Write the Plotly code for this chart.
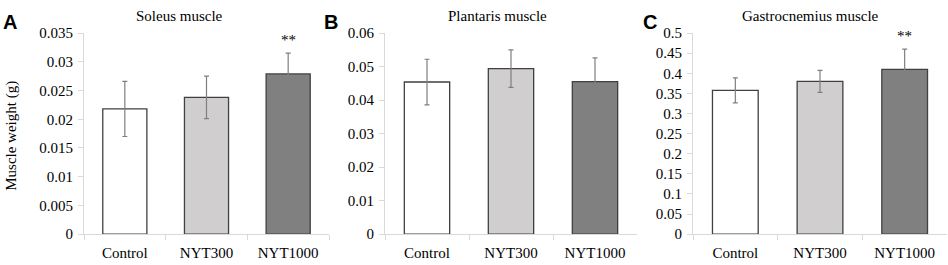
import plotly.graph_objects as go

categories = ["Control", "NYT300", "NYT1000"]
soleus = [0.0218, 0.0238, 0.0279]
soleus_err = [0.0048, 0.0037, 0.0036]
plantaris = [0.0454, 0.0494, 0.0455]
plantaris_err = [0.0068, 0.0056, 0.0071]
gastro = [0.3575, 0.3800, 0.4097]
gastro_err = [0.0310, 0.0275, 0.0503]
titles = ["Soleus muscle", "Plantaris muscle", "Gastrocnemius muscle"]
letters = ["A", "B", "C"]
signif = [["", "", "**"], ["", "", ""], ["", "", "**"]]
y_max = [0.035, 0.06, 0.5]
y_dtick = [0.005, 0.01, 0.05]

fill_colors = ["#ffffff", "#d0cece", "#808080"]
FONT = "Liberation Serif, Times New Roman, serif"
W, H = 948, 265

x_px = [(84, 329), (385, 637), (693, 947)]
y_px = (26.7, 240.7)
title_x = [179, 497, 810]
letter_x = [1, 322, 641]

fig = go.Figure()
data = [(soleus, soleus_err), (plantaris, plantaris_err), (gastro, gastro_err)]

for i, (vals, errs) in enumerate(data):
    xa = "x" if i == 0 else f"x{i+1}"
    ya = "y" if i == 0 else f"y{i+1}"
    fig.add_trace(go.Bar(
        x=categories, y=vals, xaxis=xa, yaxis=ya,
        marker=dict(color=fill_colors, line=dict(color="#404040", width=1.3)),
        error_y=dict(type="data", array=errs, visible=True, color="#7f7f7f",
                     thickness=1.2, width=2.5),
        showlegend=False, hoverinfo="skip",
    ))
    axkey = "xaxis" if i == 0 else f"xaxis{i+1}"
    aykey = "yaxis" if i == 0 else f"yaxis{i+1}"
    fig.layout[axkey] = dict(
        domain=[x_px[i][0] / W, x_px[i][1] / W], anchor=ya,
        type="category", range=[-0.5, 2.5], tickson="boundaries",
        showline=True, linecolor="#d9d9d9", linewidth=1,
        ticks="outside", ticklen=5, tickcolor="#d9d9d9",
        showgrid=False, zeroline=False,
        tickfont=dict(family=FONT, size=15, color="#000000"),
        ticklabelstandoff=5,
    )
    fig.layout[aykey] = dict(
        domain=[1 - y_px[1] / H, 1 - y_px[0] / H], anchor=xa,
        range=[0, y_max[i]], dtick=y_dtick[i], tick0=0,
        showline=True, linecolor="#d9d9d9", linewidth=1,
        ticks="outside", ticklen=5, tickcolor="#d9d9d9",
        showgrid=False, zeroline=False,
        tickfont=dict(family=FONT, size=15, color="#000000"),
        ticklabelstandoff=2,
    )
    fig.add_annotation(x=title_x[i] / W, y=1 - 8 / H, xref="paper", yref="paper",
                       text=titles[i], showarrow=False, xanchor="center", yanchor="middle",
                       font=dict(family=FONT, size=15, color="#000000"))
    fig.add_annotation(x=letter_x[i] / W, y=1 - 1 / H, xref="paper", yref="paper",
                       text=f"<b>{letters[i]}</b>", showarrow=False, xanchor="left", yanchor="top",
                       font=dict(family="Liberation Sans, Arial, sans-serif", size=20, color="#000000"))
    for j, s in enumerate(signif[i]):
        if s:
            fig.add_annotation(x=categories[j], y=vals[j] + errs[j], xref=xa, yref=ya,
                               text=s, showarrow=False, xanchor="center", yanchor="bottom",
                               yshift=3,
                               font=dict(family=FONT, size=15, color="#000000"))

fig.add_annotation(x=12 / W, y=1 - 136 / H, xref="paper", yref="paper",
                   text="Muscle weight (g)", textangle=-90, showarrow=False,
                   xanchor="center", yanchor="middle",
                   font=dict(family=FONT, size=15, color="#000000"))

fig.update_layout(
    width=W, height=H, margin=dict(l=0, r=0, t=0, b=0),
    paper_bgcolor="#ffffff", plot_bgcolor="#ffffff",
    bargap=0.46,
)

fig.write_html("out.html", config={"displayModeBar": False},
               post_script="document.body.style.margin='0';document.body.style.overflow='hidden';")
